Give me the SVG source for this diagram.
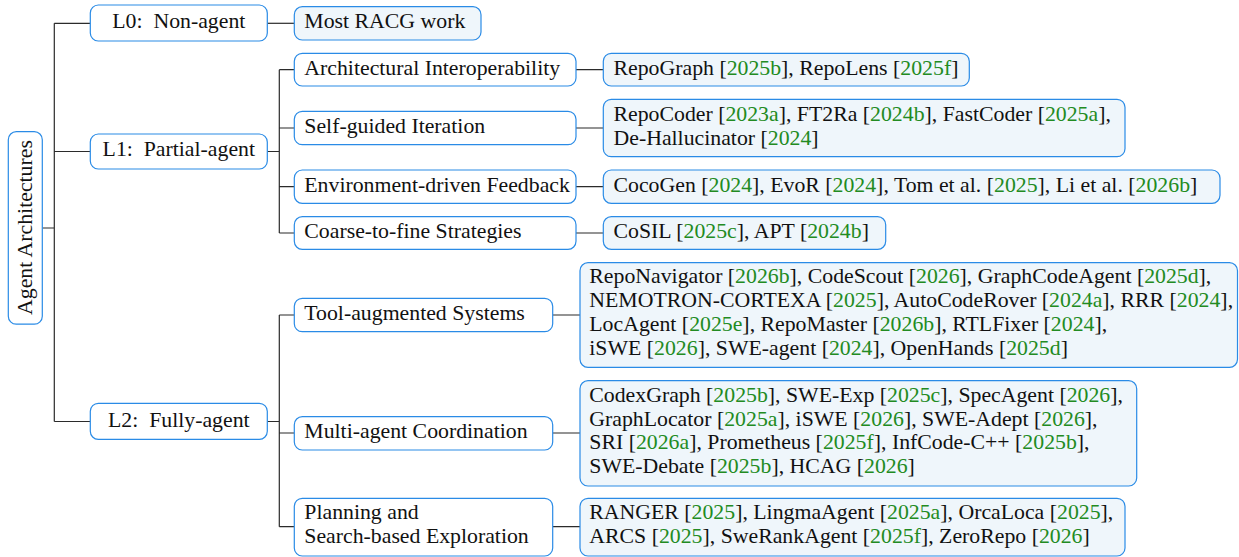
<svg xmlns="http://www.w3.org/2000/svg" width="1239" height="557" viewBox="0 0 1239 557">
<style>
  .box { fill: #ffffff; stroke: #2A8BE6; stroke-width: 1.2; }
  .leaf { fill: #EFF6FB; stroke: #2A8BE6; stroke-width: 1.2; }
  .conn { fill: none; stroke: #2b2b2b; stroke-width: 1.2; }
  text { font-family: "Liberation Serif", "Times New Roman", serif; font-size: 20px; fill: #111111; }
  .c { text-anchor: middle; }
  .g { fill: #228B22; }
</style>
<rect width="1239" height="557" fill="#ffffff"/>
<g id="connectors">
  <path class="conn" d="M42.3,228 H54.3 M54.3,23.3 V421.5 M54.3,23.3 H90.3 M54.3,151.5 H90.3 M54.3,421.5 H90.3"/>
  <path class="conn" d="M267.3,23.3 H294.3"/>
  <path class="conn" d="M267.3,151.5 H279.3 M279.3,69.7 V233 M279.3,69.7 H294.3 M279.3,128 H294.3 M279.3,186.7 H294.3 M279.3,233 H294.3"/>
  <path class="conn" d="M576,69.7 H603.3 M576,128 H603.3 M576,186.7 H603.3 M576,233 H603.3"/>
  <path class="conn" d="M267.3,421.5 H279.3 M279.3,315 V526.7 M279.3,315 H294.3 M279.3,433 H294.3 M279.3,526.7 H294.3"/>
  <path class="conn" d="M552.7,315 H580 M552.7,433 H580 M552.7,526.7 H580"/>
</g>
<g id="root">
  <rect class="box" x="8.3" y="131.7" width="34" height="192.5" rx="8"/>
  <text class="c" transform="translate(32,227.5) rotate(-90) scale(1.09,1)">Agent Architectures</text>
</g>
<g id="l0">
  <rect class="box" x="90.3" y="5" width="177" height="36" rx="8"/>
  <text class="c" transform="translate(178.8,28.3) scale(1.09,1)" xml:space="preserve">L0:  Non-agent</text>
</g>
<g id="l0-leaf">
  <rect class="leaf" x="294.3" y="6.7" width="186.7" height="33.3" rx="8"/>
  <text transform="translate(304.3,27.5) scale(1.09,1)">Most RACG work</text>
</g>
<g id="l1">
  <rect class="box" x="90.3" y="134" width="177" height="35" rx="8"/>
  <text class="c" transform="translate(178.8,156.3) scale(1.09,1)" xml:space="preserve">L1:  Partial-agent</text>
</g>
<g id="l2">
  <rect class="box" x="90.3" y="403.3" width="177" height="36" rx="8"/>
  <text class="c" transform="translate(178.8,426.7) scale(1.09,1)" xml:space="preserve">L2:  Fully-agent</text>
</g>
<g id="arch">
  <rect class="box" x="294.3" y="53.3" width="281.7" height="32.7" rx="8"/>
  <text transform="translate(304.3,75) scale(1.09,1)">Architectural Interoperability</text>
</g>
<g id="arch-leaf">
  <rect class="leaf" x="603.3" y="53.3" width="366" height="32.7" rx="8"/>
  <text transform="translate(613.5,75) scale(1.09,1)">RepoGraph [<tspan class="g">2025b</tspan>], RepoLens [<tspan class="g">2025f</tspan>]</text>
</g>
<g id="self">
  <rect class="box" x="294.3" y="111.3" width="281.7" height="33.4" rx="8"/>
  <text transform="translate(304.3,133) scale(1.09,1)">Self-guided Iteration</text>
</g>
<g id="self-leaf">
  <rect class="leaf" x="603.3" y="99.3" width="521.7" height="57.4" rx="8"/>
  <text transform="translate(613.5,0) scale(1.09,1)"><tspan x="0" y="121">RepoCoder [<tspan class="g">2023a</tspan>], FT2Ra [<tspan class="g">2024b</tspan>], FastCoder [<tspan class="g">2025a</tspan>],</tspan><tspan x="0" y="145">De-Hallucinator [<tspan class="g">2024</tspan>]</tspan></text>
</g>
<g id="env">
  <rect class="box" x="294.3" y="170" width="281.7" height="33.3" rx="8"/>
  <text transform="translate(304.3,191.7) scale(1.09,1)">Environment-driven Feedback</text>
</g>
<g id="env-leaf">
  <rect class="leaf" x="603.3" y="170" width="616.7" height="33.3" rx="8"/>
  <text transform="translate(613.5,191.7) scale(1.09,1)">CocoGen [<tspan class="g">2024</tspan>], EvoR [<tspan class="g">2024</tspan>], Tom et al. [<tspan class="g">2025</tspan>], Li et al. [<tspan class="g">2026b</tspan>]</text>
</g>
<g id="coarse">
  <rect class="box" x="294.3" y="216.7" width="281.7" height="32.6" rx="8"/>
  <text transform="translate(304.3,238.3) scale(1.09,1)">Coarse-to-fine Strategies</text>
</g>
<g id="coarse-leaf">
  <rect class="leaf" x="603.3" y="216.7" width="282.4" height="32.6" rx="8"/>
  <text transform="translate(613.5,238.3) scale(1.09,1)">CoSIL [<tspan class="g">2025c</tspan>], APT [<tspan class="g">2024b</tspan>]</text>
</g>
<g id="tool">
  <rect class="box" x="294.3" y="298.3" width="258.4" height="33.4" rx="8"/>
  <text transform="translate(304.3,320) scale(1.09,1)">Tool-augmented Systems</text>
</g>
<g id="tool-leaf">
  <rect class="leaf" x="580" y="262.7" width="657.5" height="104.6" rx="8"/>
  <text transform="translate(589.3,0) scale(1.09,1)"><tspan x="0" y="282.7">RepoNavigator [<tspan class="g">2026b</tspan>], CodeScout [<tspan class="g">2026</tspan>], GraphCodeAgent [<tspan class="g">2025d</tspan>],</tspan><tspan x="0" y="306.8">NEMOTRON-CORTEXA [<tspan class="g">2025</tspan>], AutoCodeRover [<tspan class="g">2024a</tspan>], RRR [<tspan class="g">2024</tspan>],</tspan><tspan x="0" y="331">LocAgent [<tspan class="g">2025e</tspan>], RepoMaster [<tspan class="g">2026b</tspan>], RTLFixer [<tspan class="g">2024</tspan>],</tspan><tspan x="0" y="355">iSWE [<tspan class="g">2026</tspan>], SWE-agent [<tspan class="g">2024</tspan>], OpenHands [<tspan class="g">2025d</tspan>]</tspan></text>
</g>
<g id="multi">
  <rect class="box" x="294.3" y="416.7" width="258.4" height="33.3" rx="8"/>
  <text transform="translate(304.3,438.3) scale(1.09,1)">Multi-agent Coordination</text>
</g>
<g id="multi-leaf">
  <rect class="leaf" x="580" y="380.7" width="556.7" height="105.3" rx="8"/>
  <text transform="translate(589.3,0) scale(1.09,1)"><tspan x="0" y="401.7">CodexGraph [<tspan class="g">2025b</tspan>], SWE-Exp [<tspan class="g">2025c</tspan>], SpecAgent [<tspan class="g">2026</tspan>],</tspan><tspan x="0" y="425.6">GraphLocator [<tspan class="g">2025a</tspan>], iSWE [<tspan class="g">2026</tspan>], SWE-Adept [<tspan class="g">2026</tspan>],</tspan><tspan x="0" y="449.5">SRI [<tspan class="g">2026a</tspan>], Prometheus [<tspan class="g">2025f</tspan>], InfCode-C++ [<tspan class="g">2025b</tspan>],</tspan><tspan x="0" y="473.4">SWE-Debate [<tspan class="g">2025b</tspan>], HCAG [<tspan class="g">2026</tspan>]</tspan></text>
</g>
<g id="plan">
  <rect class="box" x="294.3" y="498.3" width="258.4" height="57.7" rx="8"/>
  <text transform="translate(304.3,0) scale(1.09,1)"><tspan x="0" y="519.3">Planning and</tspan><tspan x="0" y="543.3">Search-based Exploration</tspan></text>
</g>
<g id="plan-leaf">
  <rect class="leaf" x="580" y="498.3" width="545" height="57.7" rx="8"/>
  <text transform="translate(589.3,0) scale(1.09,1)"><tspan x="0" y="519.3">RANGER [<tspan class="g">2025</tspan>], LingmaAgent [<tspan class="g">2025a</tspan>], OrcaLoca [<tspan class="g">2025</tspan>],</tspan><tspan x="0" y="543.3">ARCS [<tspan class="g">2025</tspan>], SweRankAgent [<tspan class="g">2025f</tspan>], ZeroRepo [<tspan class="g">2026</tspan>]</tspan></text>
</g>
</svg>
